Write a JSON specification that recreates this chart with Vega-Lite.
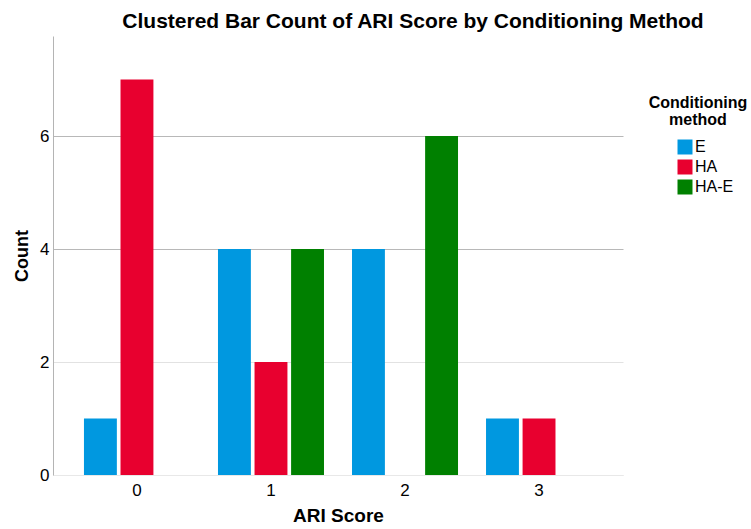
{
  "$schema": "https://vega.github.io/schema/vega-lite/v6.json",
  "width": 570,
  "height": 439,
  "autosize": "none",
  "padding": {"left": 53, "top": 36, "right": 128, "bottom": 54},
  "background": "white",
  "title": {
    "text": "Clustered Bar Count of ARI Score by Conditioning Method",
    "font": "Liberation Sans",
    "fontSize": 21,
    "fontWeight": "bold",
    "color": "black",
    "anchor": "middle",
    "frame": "group",
    "dx": 75,
    "offset": 4
  },
  "data": {
    "values": [
      {"score": "0", "method": "E", "count": 1},
      {"score": "0", "method": "HA", "count": 7},
      {"score": "1", "method": "E", "count": 4},
      {"score": "1", "method": "HA", "count": 2},
      {"score": "1", "method": "HA-E", "count": 4},
      {"score": "2", "method": "E", "count": 4},
      {"score": "2", "method": "HA-E", "count": 6},
      {"score": "3", "method": "E", "count": 1},
      {"score": "3", "method": "HA", "count": 1}
    ]
  },
  "mark": {"type": "bar"},
  "encoding": {
    "x": {
      "field": "score",
      "type": "nominal",
      "sort": ["0", "1", "2", "3"],
      "scale": {"paddingInner": 0.209, "paddingOuter": 0.231},
      "axis": {
        "title": "ARI Score",
        "titleFont": "Liberation Sans",
        "titleFontSize": 19,
        "titleFontWeight": "bold",
        "titleColor": "black",
        "titlePadding": 8,
        "labelFont": "Liberation Sans",
        "labelFontSize": 17,
        "labelColor": "black",
        "labelAngle": 0,
        "labelPadding": 7,
        "ticks": false,
        "grid": false,
        "domainColor": "#e8e8e8",
        "domainWidth": 1
      }
    },
    "xOffset": {
      "field": "method",
      "type": "nominal",
      "sort": ["E", "HA", "HA-E"],
      "scale": {"domain": ["E", "HA", "HA-E"], "paddingInner": 0.1, "paddingOuter": 0}
    },
    "y": {
      "field": "count",
      "type": "quantitative",
      "scale": {"domain": [0, 7.77], "nice": false, "zero": true},
      "axis": {
        "title": "Count",
        "titleFont": "Liberation Sans",
        "titleFontSize": 18,
        "titleFontWeight": "bold",
        "titleColor": "black",
        "titlePadding": 8,
        "labelFont": "Liberation Sans",
        "labelFontSize": 17,
        "labelColor": "black",
        "labelPadding": 4,
        "values": [0, 2, 4, 6],
        "ticks": false,
        "domainColor": "#b4b4b4",
        "grid": true,
        "gridColor": {"condition": {"test": "datum.value === 6 || datum.value === 4", "value": "#b8b8b8"}, "value": "#e2e2e2"}
      }
    },
    "color": {
      "field": "method",
      "type": "nominal",
      "scale": {"domain": ["E", "HA", "HA-E"], "range": ["#0098e0", "#e8002f", "#008000"]},
      "legend": {
        "orient": "none",
        "legendX": 596,
        "legendY": 59,
        "title": ["Conditioning", "method"],
        "titleFont": "Liberation Sans",
        "titleFontSize": 16,
        "titleFontWeight": "bold",
        "titleColor": "black",
        "titleAlign": "center",
        "titleAnchor": "middle",
        "titleLineHeight": 17,
        "titlePadding": 11,
        "labelFont": "Liberation Sans",
        "labelFontSize": 16,
        "labelColor": "black",
        "labelOffset": 2,
        "symbolOffset": 14,
        "symbolType": "square",
        "symbolSize": 225,
        "symbolStrokeWidth": 0,
        "symbolOpacity": 1,
        "rowPadding": 4,
        "padding": 0
      }
    }
  },
  "config": {"view": {"stroke": null}}
}
